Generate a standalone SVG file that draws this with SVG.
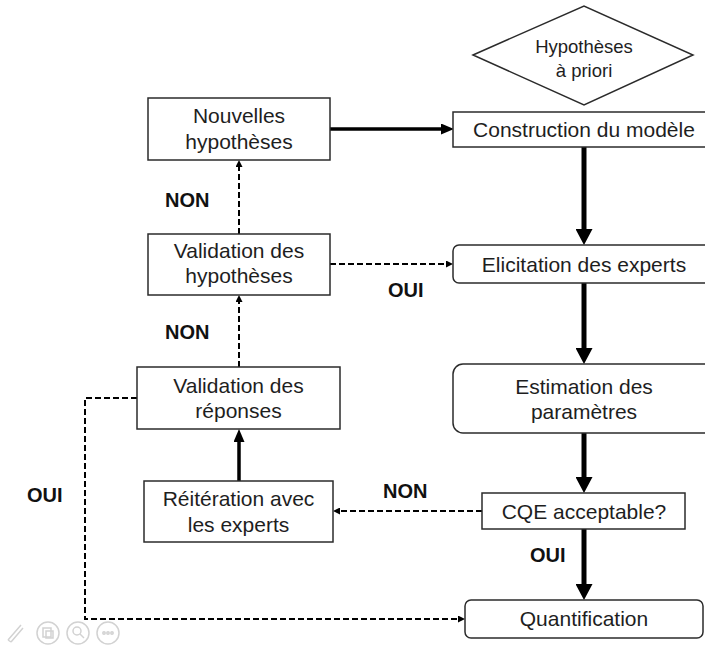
<svg xmlns="http://www.w3.org/2000/svg" width="705" height="647" viewBox="0 0 705 647">
  <style>
    .box { fill: #ffffff; stroke: #2b2b2b; stroke-width: 1.5; }
    .txt { font-family: "Liberation Sans", Arial, sans-serif; font-size: 21px; fill: #1e1e1e; text-anchor: middle; }
    .dtxt { font-family: "Liberation Sans", Arial, sans-serif; font-size: 18.5px; fill: #1e1e1e; text-anchor: middle; }
    .lbl { font-family: "Liberation Sans", Arial, sans-serif; font-size: 20px; font-weight: bold; fill: #111111; }
    .thick { fill: none; stroke: #000000; stroke-width: 5; }
    .mid { fill: none; stroke: #000000; stroke-width: 3.5; }
    .dash { fill: none; stroke: #000000; stroke-width: 2; stroke-dasharray: 6 3; }
    .ico { fill: none; stroke: #d2d2d2; stroke-width: 1.5; }
  </style>
  <defs>
    <marker id="ahBig" markerUnits="userSpaceOnUse" markerWidth="16" markerHeight="17" viewBox="0 0 16 17" refX="0" refY="8.5" orient="auto">
      <path d="M0,0 L16,8.5 L0,17 Z" fill="#000000"/>
    </marker>
    <marker id="ahMid" markerUnits="userSpaceOnUse" markerWidth="13" markerHeight="11" viewBox="0 0 13 11" refX="0" refY="5.5" orient="auto">
      <path d="M0,0 L13,5.5 L0,11 Z" fill="#000000"/>
    </marker>
    <marker id="ahSmall" markerUnits="userSpaceOnUse" markerWidth="7" markerHeight="7" viewBox="0 0 7 7" refX="0" refY="3.5" orient="auto">
      <path d="M0,0 L7,3.5 L0,7 Z" fill="#000000"/>
    </marker>
  </defs>

  <g id="connectors">
    <line class="mid" x1="330" y1="129" x2="441" y2="129" marker-end="url(#ahMid)"/>
    <line class="thick" x1="584" y1="147" x2="584" y2="229" marker-end="url(#ahBig)"/>
    <line class="thick" x1="584" y1="283" x2="584" y2="348" marker-end="url(#ahBig)"/>
    <line class="thick" x1="584" y1="433" x2="584" y2="477" marker-end="url(#ahBig)"/>
    <line class="thick" x1="584" y1="529" x2="584" y2="584" marker-end="url(#ahBig)"/>
    <line class="dash" x1="239" y1="234" x2="239" y2="167" marker-end="url(#ahSmall)"/>
    <line class="dash" x1="330" y1="264" x2="446" y2="264" marker-end="url(#ahSmall)"/>
    <line class="dash" x1="239" y1="367" x2="239" y2="302" marker-end="url(#ahSmall)"/>
    <line class="mid" x1="239" y1="481" x2="239" y2="442" marker-end="url(#ahMid)"/>
    <line class="dash" x1="482" y1="511" x2="340" y2="511" marker-end="url(#ahSmall)"/>
    <path class="dash" d="M137,398 H85 V619 H458" marker-end="url(#ahSmall)"/>
  </g>

  <g id="labels">
    <text class="lbl" x="165" y="207">NON</text>
    <text class="lbl" x="165" y="339">NON</text>
    <text class="lbl" x="388" y="297">OUI</text>
    <text class="lbl" x="27" y="502">OUI</text>
    <text class="lbl" x="383" y="498">NON</text>
    <text class="lbl" x="530" y="562">OUI</text>
  </g>

  <g id="hypotheses-a-priori">
    <polygon class="box" points="473,55 584,6 693,55 584,105"/>
    <text class="dtxt" x="584" y="53">Hypothèses</text>
    <text class="dtxt" x="584" y="77">à priori</text>
  </g>

  <g id="construction">
    <rect class="box" x="453" y="112" width="262" height="35"/>
    <text class="txt" x="584" y="137">Construction du modèle</text>
  </g>

  <g id="elicitation">
    <rect class="box" x="453" y="245" width="262" height="38" rx="6"/>
    <text class="txt" x="584" y="272">Elicitation des experts</text>
  </g>

  <g id="estimation">
    <rect class="box" x="453" y="364" width="262" height="69" rx="10"/>
    <text class="txt" x="584" y="394">Estimation des</text>
    <text class="txt" x="584" y="419">paramètres</text>
  </g>

  <g id="cqe">
    <rect class="box" x="482" y="493" width="203" height="36"/>
    <text class="txt" x="584" y="519">CQE acceptable?</text>
  </g>

  <g id="quantification">
    <rect class="box" x="465" y="600" width="238" height="38" rx="6"/>
    <text class="txt" x="584" y="626">Quantification</text>
  </g>

  <g id="nouvelles-hypotheses">
    <rect class="box" x="148" y="98" width="182" height="62"/>
    <text class="txt" x="239" y="123">Nouvelles</text>
    <text class="txt" x="239" y="149">hypothèses</text>
  </g>

  <g id="validation-hypotheses">
    <rect class="box" x="148" y="234" width="182" height="61"/>
    <text class="txt" x="239" y="258">Validation des</text>
    <text class="txt" x="239" y="283">hypothèses</text>
  </g>

  <g id="validation-reponses">
    <rect class="box" x="137" y="367" width="203" height="62"/>
    <text class="txt" x="238.5" y="393">Validation des</text>
    <text class="txt" x="238.5" y="418">réponses</text>
  </g>

  <g id="reiteration">
    <rect class="box" x="144" y="481" width="189" height="61"/>
    <text class="txt" x="238.5" y="506">Réitération avec</text>
    <text class="txt" x="238.5" y="532">les experts</text>
  </g>

  <g id="toolbar">
    <path class="ico" d="M8,640 L21,625 M11,642 L23,628 M8,640 L11,642"/>
    <circle class="ico" cx="48" cy="633" r="11"/>
    <rect class="ico" x="43" y="628" width="8" height="9"/>
    <rect class="ico" x="46" y="631" width="7" height="7"/>
    <circle class="ico" cx="78" cy="633" r="11"/>
    <circle class="ico" cx="77" cy="631" r="4"/>
    <line class="ico" x1="80" y1="634" x2="84" y2="638"/>
    <circle class="ico" cx="108" cy="633" r="11"/>
    <circle class="ico" cx="104" cy="633" r="1.2"/>
    <circle class="ico" cx="108" cy="633" r="1.2"/>
    <circle class="ico" cx="112" cy="633" r="1.2"/>
  </g>
</svg>
